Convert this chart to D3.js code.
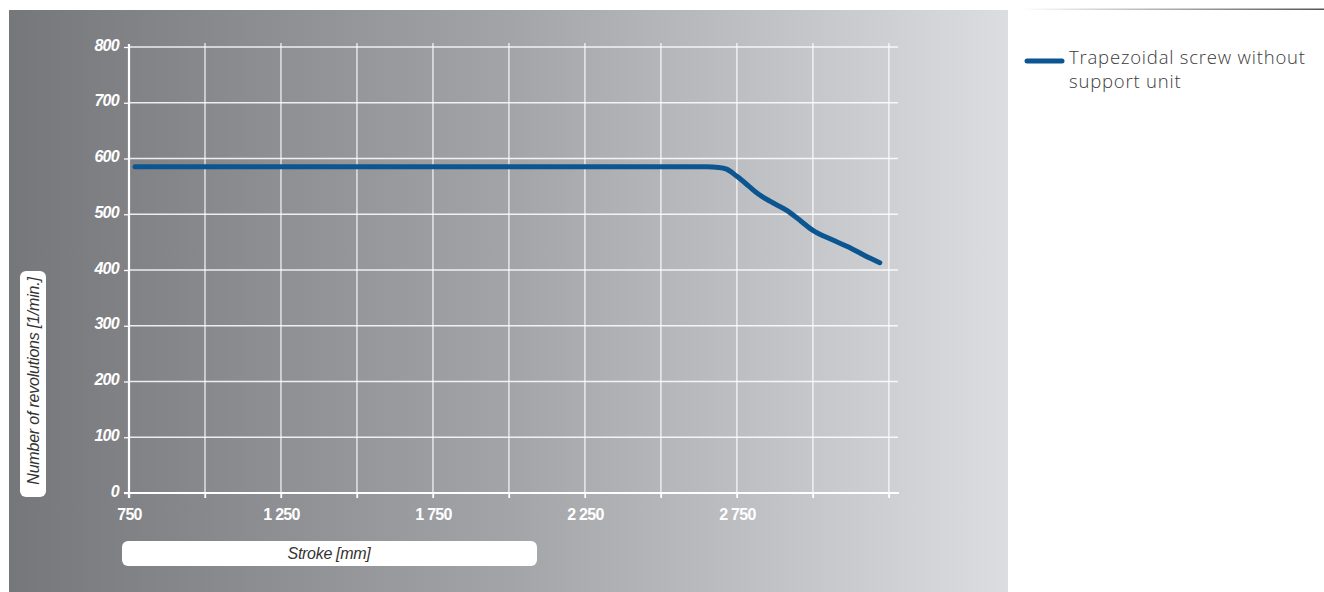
<!DOCTYPE html>
<html><head><meta charset="utf-8">
<script src="https://cdn.jsdelivr.net/npm/d3@7"></script>
<style>body{margin:0;background:#fff;}svg{display:block;}</style>
</head><body>
<svg id="c" width="1324" height="592"></svg>
<script>
const strokeMm = [770, 1200, 1700, 2200, 2650, 2690, 2716, 2750, 2790, 2816, 2860, 2914, 2960, 3000, 3060, 3122, 3170, 3220];
const revolutions = [585, 585, 585, 585, 585, 584, 581, 568, 550, 538, 523, 507, 488, 471, 455, 440, 426, 413];
const xTickValues = [750, 1000, 1250, 1500, 1750, 2000, 2250, 2500, 2750, 3000, 3250];
const xTickLabels = ["750", "", "1 250", "", "1 750", "", "2 250", "", "2 750", "", ""];
const yTickValues = [0, 100, 200, 300, 400, 500, 600, 700, 800];
const seriesName = ["Trapezoidal screw without", "support unit"];

const svg = d3.select("#c");
const defs = svg.append("defs");
const g1 = defs.append("linearGradient").attr("id","bg").attr("x1","0").attr("x2","1").attr("y1","0").attr("y2","0");
g1.append("stop").attr("offset","0").attr("stop-color","#76777b");
g1.append("stop").attr("offset","0.5").attr("stop-color","#a3a4a8");
g1.append("stop").attr("offset","1").attr("stop-color","#dcdde0");
const g2 = defs.append("linearGradient").attr("id","lg").attr("x1","0").attr("x2","1");
g2.append("stop").attr("offset","0").attr("stop-color","#ffffff");
g2.append("stop").attr("offset","1").attr("stop-color","#555");

svg.append("rect").attr("x",9).attr("y",10).attr("width",999).attr("height",582).attr("fill","url(#bg)");
svg.append("rect").attr("x",1020).attr("y",8.5).attr("width",304).attr("height",1.5).attr("fill","url(#lg)");

const x = d3.scaleLinear().domain([750, 3280]).range([129, 898]);
const y = d3.scaleLinear().domain([0, 800]).range([493, 47]);

const FONT = "Liberation Sans, Arial, sans-serif";

// grid
const grid = svg.append("g");
grid.selectAll("line.v").data(xTickValues.slice(1)).join("line")
  .attr("x1",d=>x(d)).attr("x2",d=>x(d)).attr("y1",43).attr("y2",498)
  .attr("stroke","#fff").attr("stroke-opacity",0.85).attr("stroke-width",1.3);
grid.selectAll("line.h").data(yTickValues.slice(1)).join("line")
  .attr("x1",129).attr("x2",898).attr("y1",d=>y(d)).attr("y2",d=>y(d))
  .attr("stroke","#fff").attr("stroke-opacity",0.85).attr("stroke-width",1.3);

// axes
const xAxis = d3.axisBottom(x).tickValues(xTickValues).tickSize(5).tickFormat((d,i)=>xTickLabels[i]);
const gx = svg.append("g").attr("transform",`translate(0,${y(0)})`).call(xAxis);
gx.select(".domain").attr("d","M124,0H899").attr("stroke","#fff").attr("stroke-width",2.2);
gx.selectAll(".tick line").attr("stroke","#fff").attr("stroke-width",1.3);
gx.selectAll(".tick text").attr("fill","#fff").attr("font-family",FONT)
  .attr("font-weight","bold").attr("font-size","16px").attr("dy","0").attr("y",27).attr("letter-spacing","-0.7");

const yAxis = d3.axisLeft(y).tickValues(yTickValues).tickSize(5).tickPadding(6);
const gy = svg.append("g").attr("transform",`translate(${x(750)},0)`).call(yAxis);
gy.select(".domain").attr("d","M0,44V498").attr("stroke","#fff").attr("stroke-width",2.2);
gy.selectAll(".tick line").attr("stroke","#fff").attr("stroke-width",1.3);
gy.selectAll(".tick text").attr("fill","#fff").attr("font-family",FONT)
  .attr("font-weight","bold").attr("font-style","italic").attr("font-size","16px").attr("dy","0").attr("y",3).attr("x",-10).attr("letter-spacing","-0.7");

// line
const line = d3.line().x((d,i)=>x(strokeMm[i])).y(d=>y(d)).curve(d3.curveMonotoneX);
svg.append("path").datum(revolutions).attr("d",line).attr("fill","none")
  .attr("stroke","#0b5591").attr("stroke-width",5).attr("stroke-linecap","round").attr("stroke-linejoin","round");

// axis titles
svg.append("rect").attr("x",122).attr("y",541).attr("width",415).attr("height",25).attr("rx",6).attr("fill","#fff");
svg.append("text").attr("x",329).attr("y",559).attr("text-anchor","middle").attr("fill","#333")
  .attr("font-family",FONT).attr("font-style","italic").attr("font-size","16px").attr("letter-spacing","-0.3").text("Stroke [mm]");
svg.append("rect").attr("x",20).attr("y",271).attr("width",26).attr("height",226).attr("rx",6).attr("fill","#fff");
svg.append("text").attr("transform","translate(38.5,381) rotate(-90)").attr("text-anchor","middle").attr("fill","#333")
  .attr("font-family",FONT).attr("font-style","italic").attr("font-size","16px").attr("letter-spacing","-0.2").text("Number of revolutions [1/min.]");

// legend
svg.append("line").attr("x1",1027).attr("x2",1062).attr("y1",61).attr("y2",61)
  .attr("stroke","#0b5591").attr("stroke-width",5).attr("stroke-linecap","round");
svg.append("text").attr("x",1069).attr("y",64).attr("fill","#3a3a3a")
  .attr("font-family","Open Sans, Liberation Sans, sans-serif").attr("font-weight","300").attr("font-size","18.5px").attr("letter-spacing","0.8")
  .selectAll("tspan").data(seriesName).join("tspan").attr("x",1069).attr("dy",(d,i)=>i?24:0).text(d=>d);
</script>
</body></html>
